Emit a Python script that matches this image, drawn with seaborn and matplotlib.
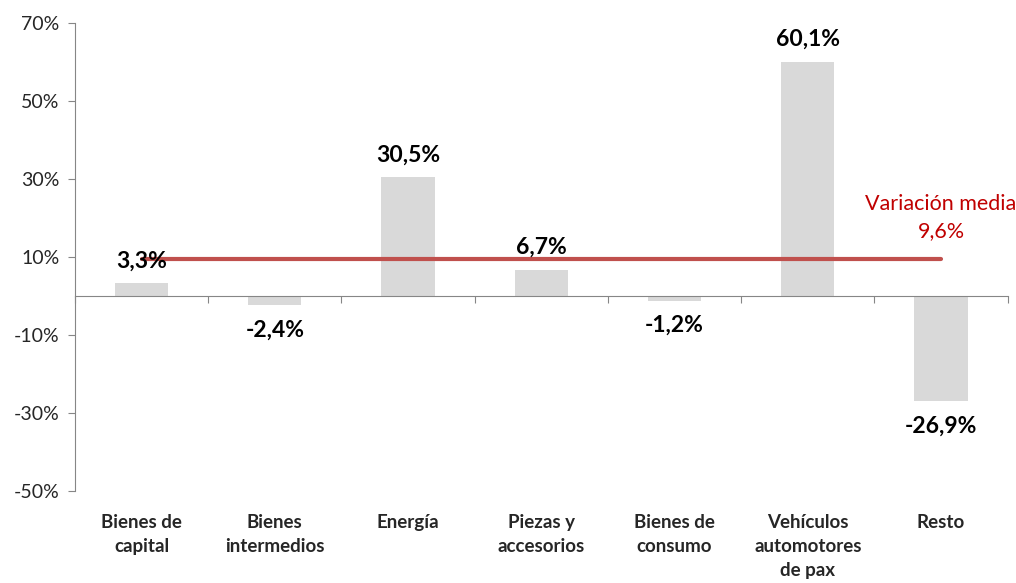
import numpy as np
import pandas as pd
import seaborn as sns
import matplotlib.pyplot as plt
import matplotlib.transforms as mtransforms

# Data
categories = ["Bienes de\ncapital", "Bienes\nintermedios", "Energía", "Piezas y\naccesorios",
              "Bienes de\nconsumo", "Vehículos\nautomotores\nde pax", "Resto"]
variation = [3.3, -2.4, 30.5, 6.7, -1.2, 60.1, -26.9]
mean_variation = 9.6
yticks = [-50, -30, -10, 10, 30, 50, 70]

df = pd.DataFrame({"categoria": categories, "variacion": variation})

sns.set_style("white")
plt.rcParams["font.family"] = ["Lato", "DejaVu Sans"]

fig = plt.figure(figsize=(10.16, 5.83), dpi=100)
ax = fig.add_axes([0.0738, 0.158, 0.918, 0.8025])

sns.barplot(data=df, x="categoria", y="variacion", color="#D9D9D9",
            width=0.4, saturation=1, linewidth=0, ax=ax, zorder=2)

# average line
n = len(categories)
ax.plot([0, n - 1], [mean_variation, mean_variation], color="#C0504D", lw=3,
        solid_capstyle="round", zorder=3)
ax.text(n - 1, mean_variation + 4.5, "Variación media\n" + f"{mean_variation:.1f}%".replace(".", ","),
        ha="center", va="bottom", color="#C00000", fontsize=15.5, linespacing=1.45, zorder=4)

# data labels
for i, v in enumerate(variation):
    off = 16 if v >= 0 else -18
    ax.annotate(f"{v:.1f}%".replace(".", ","), (i, v), xytext=(0, off),
                textcoords="offset points", ha="center", va="center",
                fontsize=16.5, fontweight="bold", color="black", zorder=4)

ax.set_xlim(-0.5, n - 0.5)
ax.set_ylim(-50, 70)
ax.set_yticks(yticks)
ax.set_yticklabels([f"{t}%" for t in yticks])
ax.set_xlabel("")
ax.set_ylabel("")

# zero axis with tick marks between categories
ax.spines["bottom"].set_position(("data", 0))
ax.spines["bottom"].set_color("#868686")
ax.spines["bottom"].set_zorder(5)
ax.set_xticks(np.arange(-0.5, n, 1))
ax.set_xticklabels([])
ax.tick_params(axis="x", length=5, color="#868686", direction="out", bottom=True)
ax.tick_params(axis="y", length=5, color="#868686", labelsize=14, pad=6, direction="out", left=True)

for s in ["top", "right"]:
    ax.spines[s].set_visible(False)
ax.spines["left"].set_color("#868686")

# category labels below the plot area
trans = mtransforms.blended_transform_factory(ax.transData, ax.transAxes)
for i, c in enumerate(categories):
    ax.text(i, -0.05, c, transform=trans, ha="center", va="top",
            fontsize=13.5, fontweight="bold", linespacing=1.5)

fig.savefig("out.png", dpi=100)
